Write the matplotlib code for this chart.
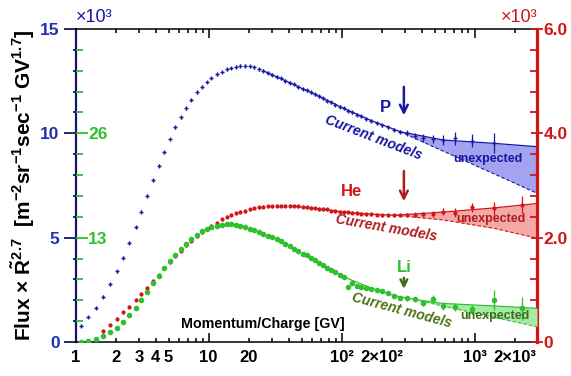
import numpy as np
import matplotlib
matplotlib.use('Agg')
from matplotlib import pyplot as plt
from matplotlib.ticker import FixedLocator, FixedFormatter, FuncFormatter

plt.rcParams['font.family'] = ['Liberation Sans', 'DejaVu Sans']
plt.rcParams['font.weight'] = 'bold'
plt.rcParams['axes.labelweight'] = 'bold'
plt.rcParams['mathtext.fontset'] = 'custom'
plt.rcParams['mathtext.rm'] = 'Liberation Sans:bold'
plt.rcParams['mathtext.bf'] = 'Liberation Sans:bold'
plt.rcParams['mathtext.it'] = 'Liberation Sans:bold:italic'

# rigidity of the points [GV], shared by the three species
rigidity = [1.09, 1.24, 1.42, 1.61, 1.82, 2.04, 2.28, 2.53, 2.83, 3.11, 3.45, 3.83, 4.23, 4.63, 5.12,
            5.61, 6.15, 6.75, 7.39, 8.12, 8.91, 9.66, 10.5, 11.5, 12.5, 13.7, 14.6, 16.0, 17.2, 18.7,
            20.5, 22.0, 23.9, 25.7, 27.9, 30.1, 32.4, 34.8, 37.6, 40.6, 43.5, 47.2, 50.9, 54.6, 58.8,
            62.6, 67.1, 71.9, 77.9, 83.6, 89.8, 96.6, 104, 112, 120, 130, 141, 153, 167, 183,
            201, 222, 246, 275, 308, 356, 411, 483, 580, 711, 949, 1403, 2290]

# proton (left axis, x10^3), points 0..71
p_flux = [0.78, 1.20, 1.64, 2.17, 2.76, 3.40, 4.04, 4.76, 5.50, 6.24, 7.00, 7.74, 8.45, 9.10, 9.73,
          10.29, 10.77, 11.21, 11.61, 11.96, 12.23, 12.46, 12.65, 12.83, 12.94, 13.07, 13.13, 13.19, 13.23, 13.23,
          13.21, 13.16, 13.08, 13.00, 12.90, 12.81, 12.71, 12.64, 12.52, 12.43, 12.35, 12.23, 12.14, 12.06, 11.96,
          11.87, 11.77, 11.68, 11.57, 11.48, 11.38, 11.28, 11.19, 11.09, 11.01, 10.90, 10.81, 10.71, 10.61, 10.49,
          10.38, 10.28, 10.17, 10.08, 10.00, 9.89, 9.79, 9.71, 9.68, 9.76, 9.65, 9.52]
p_err = [0.07] * 61 + [0.08, 0.08, 0.08, 0.14, 0.14, 0.19, 0.19, 0.24, 0.32, 0.32, 0.48]

# helium (right axis, x10^3), points 3..72
he_flux = [0.21, 0.33, 0.45, 0.57, 0.68, 0.81, 0.92, 1.04, 1.17, 1.28, 1.41, 1.53,
           1.65, 1.75, 1.85, 1.94, 2.03, 2.10, 2.17, 2.23, 2.29, 2.35, 2.40, 2.44, 2.47, 2.50, 2.51,
           2.54, 2.56, 2.58, 2.59, 2.60, 2.60, 2.61, 2.61, 2.61, 2.61, 2.61, 2.60, 2.59, 2.58, 2.57,
           2.56, 2.55, 2.55, 2.54, 2.52, 2.51, 2.50, 2.49, 2.49, 2.48, 2.47, 2.46, 2.45, 2.45, 2.44,
           2.43, 2.43, 2.43, 2.43, 2.43, 2.44, 2.45, 2.46, 2.50, 2.48, 2.58, 2.56, 2.63]
he_err = [0.03] * 61 + [0.04, 0.05, 0.05, 0.06, 0.06, 0.08, 0.09, 0.13, 0.16]

# lithium (green scale), points 0..72
li_flux = [0.04, 0.12, 0.37, 0.78, 1.21, 1.78, 2.49, 3.33, 4.24, 5.23, 6.27, 7.29, 8.26, 9.18, 10.09,
           10.84, 11.59, 12.27, 12.83, 13.33, 13.77, 14.08, 14.29, 14.49, 14.62, 14.70, 14.68, 14.58, 14.43, 14.29,
           14.10, 13.92, 13.71, 13.50, 13.27, 13.04, 12.83, 12.55, 12.24, 11.90, 11.61, 11.30, 11.00, 10.80, 10.47,
           10.18, 9.87, 9.60, 9.25, 8.93, 8.69, 8.41, 8.10, 6.89, 7.29, 7.04, 6.85, 6.73, 6.60, 6.48,
           6.35, 6.11, 5.79, 5.48, 5.44, 5.30, 4.86, 5.36, 4.49, 4.40, 4.07, 5.23, 4.20]
li_err = [0.15] * 64 + [0.3, 0.3, 0.4, 0.52, 0.5, 0.5, 0.56, 1.29, 1.45]

# "current models" curves: hi follows the data, lo is the dashed prediction
p_model_rig = [25.7, 40.6, 62.6, 104, 167, 275, 580, 1400, 2950]
p_model_hi = [13.00, 12.43, 11.87, 11.19, 10.61, 10.08, 9.68, 9.52, 9.36]
p_model_lo = [13.00, 12.43, 11.87, 11.19, 10.61, 10.08, 9.15, 8.06, 7.13]
he_model_rig = [40.6, 62.6, 104, 167, 252, 580, 1400, 2950]
he_model_hi = [2.61, 2.56, 2.49, 2.45, 2.43, 2.49, 2.57, 2.655]
he_model_lo = [2.61, 2.56, 2.49, 2.45, 2.43, 2.34, 2.18, 1.99]
li_model_rig = [58.8, 104, 167, 246, 356, 580, 1400, 2950]
li_model_hi = [10.47, 8.10, 6.73, 5.79, 5.30, 4.80, 4.49, 4.20]
li_model_lo = [10.47, 8.10, 6.73, 5.79, 5.30, 4.47, 3.08, 1.91]

x_major = [1, 10, 100, 1000]
x_major_labels = ['1', '10', '10²', '10³']
x_minor = [2, 3, 4, 5, 6, 7, 8, 9, 20, 30, 40, 50, 60, 70, 80, 90,
           200, 300, 400, 500, 600, 700, 800, 900, 2000]
x_minor_labels = {2: '2', 3: '3', 4: '4', 5: '5', 20: '20', 200: '2×10²', 2000: '2×10³'}

BLUE = '#1717a3'
NAVY = '#15156e'
RED = '#cf1717'
GREEN = '#2fbf2f'
DKGREEN = '#3d6e17'


def draw_species(axis, rig, flux, err, mrig, mhi, mlo, split, color, fill, fmt, ms):
    mrig = np.array(mrig)
    mhi = np.array(mhi)
    mlo = np.array(mlo)
    sel = mrig >= split
    axis.fill_between(mrig[sel], mlo[sel], mhi[sel], color=fill, lw=0, zorder=1)
    axis.plot(mrig, mhi, color=color, lw=0.9, zorder=2)
    axis.plot(mrig[sel], mlo[sel], color=color, lw=0.8, ls=(0, (3, 2)), zorder=2)
    axis.errorbar(rig, flux, yerr=err, fmt=fmt, ms=ms, mew=1.0, color=color,
                  elinewidth=0.9, capsize=0, zorder=3)


fig = plt.figure(figsize=(5.71, 3.76), dpi=100)
ax = fig.add_axes([0.1326, 0.0904, 0.8079, 0.8325])
axr = ax.twinx()
axg = ax.twinx()

ax.set_xscale('log')
ax.set_xlim(1, 2950)
ax.set_ylim(0, 15)
axr.set_ylim(0, 6)
axg.set_ylim(0, 39)

draw_species(ax, rigidity[:72], p_flux, p_err, p_model_rig, p_model_hi, p_model_lo, 275,
             BLUE, '#a3a3f2', '+', 3.5)
draw_species(axr, rigidity[3:], he_flux, he_err, he_model_rig, he_model_hi, he_model_lo, 252,
             RED, '#f5a8a8', 'o', 2.0)
draw_species(axg, rigidity, li_flux, li_err, li_model_rig, li_model_hi, li_model_lo, 356,
             GREEN, '#a6eaa6', 'o', 3.0)

# x axis
ax.xaxis.set_major_locator(FixedLocator(x_major))
ax.xaxis.set_major_formatter(FixedFormatter(x_major_labels))
ax.xaxis.set_minor_locator(FixedLocator(x_minor))
ax.xaxis.set_minor_formatter(FuncFormatter(lambda v, pos: x_minor_labels.get(int(round(v)), '')))
ax.tick_params(axis='x', which='both', direction='in', top=True, labelsize=12, pad=6, width=1.1)
ax.tick_params(axis='x', which='major', length=6.5)
ax.tick_params(axis='x', which='minor', length=3)

# left blue axis
ax.yaxis.set_major_locator(FixedLocator([0, 5, 10, 15]))
ax.yaxis.set_minor_locator(FixedLocator([k for k in range(1, 15) if k % 5]))
ax.tick_params(axis='y', which='both', direction='out', colors=NAVY, labelcolor='#1f2fb0',
               labelsize=12.5, width=1.3, pad=3)
ax.tick_params(axis='y', which='major', length=8.6)
ax.tick_params(axis='y', which='minor', length=2)
for side in ['top', 'bottom']:
    ax.spines[side].set_linewidth(1.1)
ax.spines['left'].set_linewidth(1.6)
ax.spines['left'].set_color(NAVY)
ax.spines['right'].set_visible(False)

# right red axis
for side in ['top', 'bottom', 'left']:
    axr.spines[side].set_visible(False)
axr.spines['right'].set_color(RED)
axr.spines['right'].set_linewidth(2.3)
axr.yaxis.set_major_locator(FixedLocator([0, 2, 4, 6]))
axr.yaxis.set_major_formatter(FixedFormatter(['0', '2.0', '4.0', '6.0']))
axr.yaxis.set_minor_locator(FixedLocator([0.4 * k for k in range(1, 15) if k % 5]))
axr.tick_params(axis='y', which='major', direction='inout', length=9, width=1.3,
                colors=RED, labelsize=12.5, pad=0)
axr.tick_params(axis='y', which='minor', direction='in', length=5, width=1.3, colors=RED)

# inner green Li scale on the left
for side in axg.spines:
    axg.spines[side].set_visible(False)
axg.yaxis.tick_left()
axg.yaxis.set_major_locator(FixedLocator([13, 26]))
axg.yaxis.set_major_formatter(FixedFormatter(['13', '26']))
axg.yaxis.set_minor_locator(FixedLocator([2.6 * k for k in range(1, 16) if k % 5]))
axg.tick_params(axis='y', which='major', direction='in', length=8.6, width=1.3,
                colors=GREEN, labelsize=12.5, pad=-9.0)
axg.tick_params(axis='y', which='minor', direction='in', length=5, width=1.3, colors=GREEN)
for t in axg.get_yticklabels():
    t.set_horizontalalignment('left')

ax.set_ylabel(r'Flux $\times$ $\tilde{\mathrm{R}}^{2.7}$  [m$^{-2}$sr$^{-1}$sec$^{-1}$ GV$^{1.7}$]',
              fontsize=15, fontweight='bold')
ax.yaxis.set_label_coords(-0.085, 0.5)

ax.text(0.0, 1.01, '×10³', transform=ax.transAxes, ha='left', va='bottom',
        fontsize=13, fontweight='normal', color=BLUE)
ax.text(1.0, 1.01, '×10³', transform=ax.transAxes, ha='right', va='bottom',
        fontsize=13, fontweight='normal', color=RED)
ax.text(0.406, 0.0575, 'Momentum/Charge [GV]', transform=ax.transAxes, ha='center', va='center',
        fontsize=10.3, color='black')

# species labels and arrows
ax.text(215, 11.26, 'P', color=BLUE, fontsize=12, ha='center', va='center')
ax.annotate('', xy=(294, 10.73), xytext=(294, 12.36),
            arrowprops=dict(arrowstyle='->', color=BLUE, lw=1.8, mutation_scale=14))
axr.text(119.5, 2.894, 'He', color=RED, fontsize=12, ha='center', va='center')
axr.annotate('', xy=(294, 2.645), xytext=(294, 3.33),
             arrowprops=dict(arrowstyle='->', color='#b01c1c', lw=1.8, mutation_scale=14))
axg.text(294, 9.28, 'Li', color=GREEN, fontsize=12, ha='center', va='center')
axg.annotate('', xy=(294, 6.27), xytext=(294, 8.35),
             arrowprops=dict(arrowstyle='->', color=DKGREEN, lw=1.8, mutation_scale=12))

ax.text(173, 9.80, 'Current models', color=BLUE, fontsize=10, style='italic',
        rotation=-21, ha='center', va='center', rotation_mode='anchor')
axr.text(215, 2.195, 'Current models', color='#b01c1c', fontsize=10, style='italic',
         rotation=-10, ha='center', va='center', rotation_mode='anchor')
axg.text(284, 3.99, 'Current models', color='#4d7313', fontsize=10, style='italic',
         rotation=-15, ha='center', va='center', rotation_mode='anchor')

ax.text(1259, 8.75, 'unexpected', color=BLUE, fontsize=9, ha='center', va='center')
axr.text(1327, 2.358, 'unexpected', color='#b01c1c', fontsize=9, ha='center', va='center')
axg.text(1422, 3.24, 'unexpected', color=DKGREEN, fontsize=9, ha='center', va='center')

fig.savefig('out.png', dpi=100)
